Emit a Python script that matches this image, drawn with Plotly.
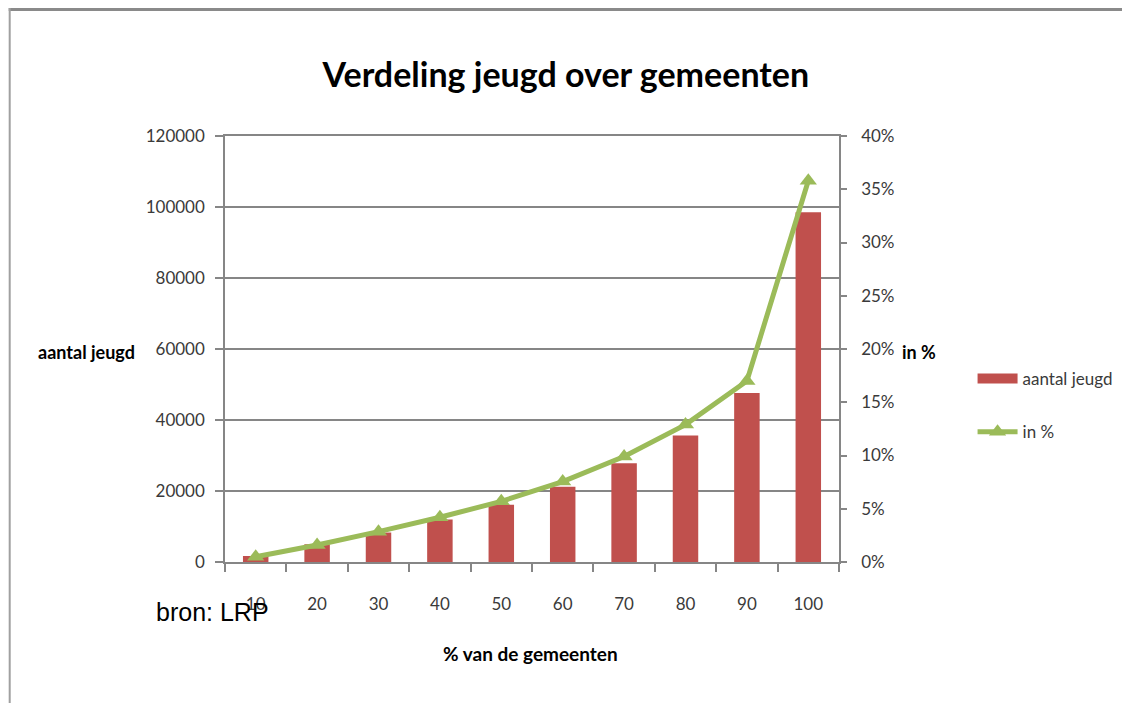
import plotly.graph_objects as go

categories = ["10", "20", "30", "40", "50", "60", "70", "80", "90", "100"]
aantal_jeugd = [1700, 5000, 8300, 12000, 16100, 21200, 27800, 35600, 47600, 98500]
in_pct = [0.005, 0.016, 0.0285, 0.042, 0.057, 0.0755, 0.099, 0.129, 0.170, 0.358]
y_ticks = [0, 20000, 40000, 60000, 80000, 100000, 120000]
y2_ticks = [0, 0.05, 0.10, 0.15, 0.20, 0.25, 0.30, 0.35, 0.40]

RED = "#C0504D"
GREEN = "#9BBB59"
GRID = "#868686"
TXT = "#3a3a3a"
FONT = "Lato"

# page has an 8px body margin; figure is sized to fill the rest of the window
OFF = 8
W, H = 1130 - OFF, 703 - OFF
L = 225 - OFF
R = W - (841 - OFF)
T = 136 - OFF
B = H - (562 - OFF)
pw, ph = W - L - R, H - T - B


def px(x):
    return (x - OFF - L) / pw


def py(y):
    return (H - B - (y - OFF)) / ph


fig = go.Figure()
fig.add_trace(go.Bar(
    x=categories, y=aantal_jeugd, name="aantal jeugd",
    marker=dict(color=RED, line=dict(width=0)),
    showlegend=False, yaxis="y",
))
# legend entry for the bars (wide rectangular swatch)
fig.add_trace(go.Scatter(
    x=[None], y=[None], name="aantal jeugd", mode="lines",
    line=dict(color=RED, width=13), legendgroup="a", yaxis="y",
))
fig.add_trace(go.Scatter(
    x=categories, y=in_pct, name="in %", mode="lines+markers",
    line=dict(color=GREEN, width=5),
    marker=dict(symbol="triangle-up", size=15, color=GREEN),
    legendgroup="b", yaxis="y2",
))

fig.update_layout(
    width=W, height=H,
    margin=dict(l=L, r=R, t=T, b=B, pad=0),
    paper_bgcolor="white", plot_bgcolor="white",
    font=dict(family=FONT, color=TXT, size=17),
    bargap=0.585,
    title=dict(text="<b>Verdeling jeugd over gemeenten</b>", x=px(567), xanchor="center",
               y=1 - (75 - OFF) / H, yanchor="middle", yref="container", xref="paper",
               font=dict(family=FONT, size=34, color="#000000")),
    xaxis=dict(type="category", categoryorder="array", categoryarray=categories,
               range=[-0.5, 9.5],
               showline=True, linecolor=GRID, linewidth=1.5, mirror=True,
               ticks="outside", ticklen=8, tickcolor=GRID, tickwidth=1.5,
               tickson="boundaries", showgrid=False, ticklabelstandoff=26,
               tickfont=dict(family=FONT, size=17, color=TXT)),
    yaxis=dict(range=[0, 120000], tickvals=y_ticks, ticktext=[str(v) for v in y_ticks],
               showline=True, linecolor=GRID, linewidth=1.5,
               showgrid=True, gridcolor=GRID, gridwidth=1.5,
               ticks="outside", ticklen=8, tickcolor=GRID, tickwidth=1.5,
               ticklabelstandoff=7,
               zeroline=False, tickfont=dict(family=FONT, size=17, color=TXT)),
    yaxis2=dict(range=[0, 0.4], tickvals=y2_ticks, tickformat=".0%",
                overlaying="y", side="right", anchor="x",
                showline=True, linecolor=GRID, linewidth=1.5, showgrid=False,
                ticks="outside", ticklen=6, tickcolor=GRID, tickwidth=1.5,
                ticklabelstandoff=11,
                zeroline=False, tickfont=dict(family=FONT, size=17, color=TXT)),
    legend=dict(x=px(975), y=py(361), xanchor="left", yanchor="top",
                traceorder="grouped", tracegroupgap=28,
                font=dict(family=FONT, size=17, color=TXT),
                bgcolor="rgba(0,0,0,0)", itemwidth=40),
    showlegend=True,
)

annotations = [
    dict(text="<b>aantal jeugd</b>", x=px(86), y=py(352), xref="paper", yref="paper",
         xanchor="center", yanchor="middle", showarrow=False,
         font=dict(family=FONT, size=18, color="#000000")),
    dict(text="<b>in %</b>", x=px(921), y=py(352), xref="paper", yref="paper",
         xanchor="center", yanchor="middle", showarrow=False,
         font=dict(family=FONT, size=18, color="#000000")),
    dict(text="<b>% van de gemeenten</b>", x=px(531), y=py(653), xref="paper", yref="paper",
         xanchor="center", yanchor="middle", showarrow=False,
         font=dict(family=FONT, size=19, color="#000000")),
    dict(text="bron: LRP", x=px(154), y=py(612), xref="paper", yref="paper",
         xanchor="left", yanchor="middle", showarrow=False,
         font=dict(family="Liberation Sans", size=25, color="#000000")),
]
fig.update_layout(annotations=annotations)

# outer frame (top and left edges)
fig.add_shape(type="line", xref="paper", yref="paper", x0=px(OFF), x1=px(1135),
              y0=py(OFF + 1.5), y1=py(OFF + 1.5), line=dict(color="#8a8a8a", width=3))
fig.add_shape(type="line", xref="paper", yref="paper", x0=px(OFF + 1), x1=px(OFF + 1),
              y0=py(OFF), y1=py(710), line=dict(color="#a0a0a0", width=2))

fig.write_html("out.html")
